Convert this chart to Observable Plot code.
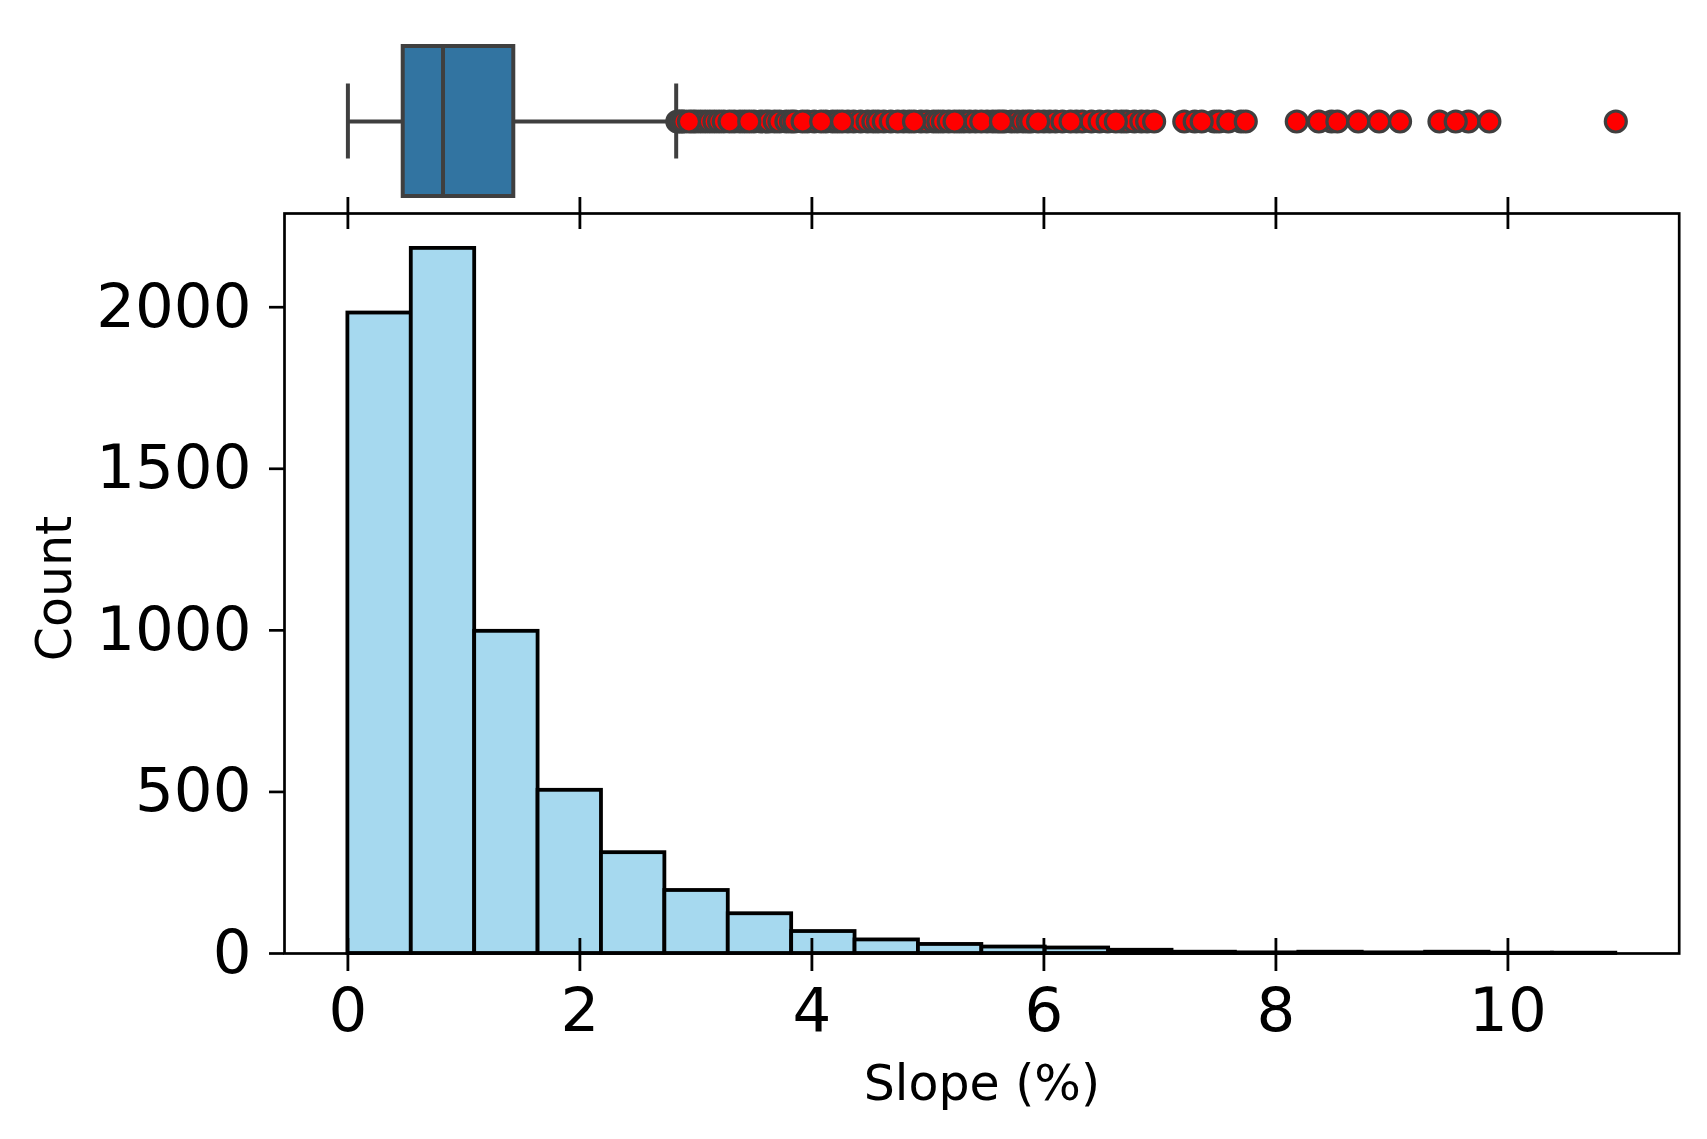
<!DOCTYPE html>
<html><head><meta charset="utf-8">
<script src="https://cdn.jsdelivr.net/npm/d3@7"></script>
<script src="https://cdn.jsdelivr.net/npm/@observablehq/plot@0.6"></script>
<style>
html,body{margin:0;padding:0;background:#fff;overflow:hidden;}
#wrap{position:relative;width:1707px;height:1139px;background:#fff;font-family:"DejaVu Sans",sans-serif;}
#wrap svg{position:absolute;left:0;top:0;}
</style></head><body><div id="wrap"></div>
<script>
// Histogram bins (Slope %, 20 bins) and counts
const binEdges = [0, 0.5465, 1.093, 1.6395, 2.186, 2.7325, 3.279, 3.8255, 4.372, 4.9185, 5.465,
  6.0115, 6.558, 7.1045, 7.651, 8.1975, 8.744, 9.2905, 9.837, 10.3835, 10.93];
const binCounts = [1982, 2182, 997, 505, 312, 195, 123, 68, 42, 28, 20, 17, 10, 4, 2, 4, 2, 4, 1, 1];
const yTicks = [0, 500, 1000, 1500, 2000];
const xTicks = [0, 2, 4, 6, 8, 10];

// Box plot summary
const boxCategory = ["Slope (%)"];
const whiskerLow = 0;
const boxQ1 = 0.477;
const boxMedian = 0.82;
const boxQ3 = 1.43;
const whiskerHigh = 2.83;
const outliersBack = [2.84, 2.86, 2.88, 2.9, 2.97, 3.0, 3.04, 3.08, 3.12, 3.16, 3.2, 3.24, 3.33, 3.38, 3.42,
  3.5, 3.56, 3.6, 3.63, 3.68, 3.72, 3.78, 3.82, 3.85, 3.96, 4.02, 4.12, 4.18, 4.22, 4.31, 4.36, 4.42,
  4.48, 4.53, 4.57, 4.62, 4.68, 4.79, 4.84, 4.94, 4.99, 5.05, 5.09, 5.13, 5.18, 5.27, 5.31, 5.36, 5.41,
  5.51, 5.56, 5.6, 5.66, 5.72, 5.77, 5.82, 5.86, 5.89, 6.0, 6.05, 6.1, 6.16, 6.28, 6.33, 6.41, 6.48,
  6.55, 6.67, 6.71, 6.78, 6.84, 6.89, 7.21, 7.3, 7.47, 7.51, 7.7, 8.48, 9.41, 9.66];
const outliersFront = [2.94, 3.29, 3.46, 3.92, 4.08, 4.26, 4.74, 4.88, 5.23, 5.46, 5.63, 5.95, 6.23, 6.62, 6.95,
  7.36, 7.59, 7.74, 8.18, 8.37, 8.53, 8.71, 8.89, 9.07, 9.55, 9.84, 10.93];

const W = 1707, H = 1139;
const mL = 284, mR = 28.3, frameTop = 213, frameBottom = 953;
const frameH = frameBottom - frameTop;
const xDomain = [-0.5465, 11.4765];
const font = "DejaVu Sans";
const edge = "#3f3f3f";

const bins = binCounts.map((c, i) => ({x1: binEdges[i], x2: binEdges[i + 1], count: c}));

const hist = Plot.plot({
  width: W, height: H,
  marginLeft: mL, marginRight: mR, marginTop: frameTop, marginBottom: H - frameBottom,
  style: {background: "transparent", fontFamily: font, overflow: "visible", color: "#000"},
  x: {domain: xDomain},
  y: {domain: [0, 2290]},
  marks: [
    Plot.rect(bins, {x1: "x1", x2: "x2", y1: () => 0, y2: "count", fill: "#a6d9ef", stroke: "#000", strokeWidth: 3.8}),
    Plot.frame({stroke: "#000", strokeWidth: 2.7}),
    Plot.axisY({ticks: yTicks, tickSize: 15, tickPadding: 18, fontSize: 61, strokeWidth: 2.7,
      tickFormat: d => String(d), label: null}),
    Plot.axisX({ticks: xTicks, tickSize: 18, tickPadding: 16, fontSize: 61, strokeWidth: 2.8,
      tickFormat: d => String(d), label: null}),
    Plot.ruleX(xTicks, {x: d => d, insetTop: frameH - 15, stroke: "#000", strokeWidth: 2.8}),
    Plot.ruleX(xTicks, {x: d => d, insetTop: -16, insetBottom: frameH - 16, stroke: "#000", strokeWidth: 2.8}),
    Plot.text(["Slope (%)"], {text: d => d, frameAnchor: "bottom", dy: 131, fontSize: 49, textAnchor: "middle", lineAnchor: "middle", fill: "#000"}),
    Plot.text(["Count"], {text: d => d, frameAnchor: "left", dx: -229.4, dy: 5, fontSize: 49, rotate: -90, textAnchor: "middle", lineAnchor: "middle", fill: "#000"})
  ]
});

const box = Plot.plot({
  width: W, height: frameTop,
  marginLeft: mL, marginRight: mR, marginTop: 0, marginBottom: 0,
  style: {background: "transparent", overflow: "visible"},
  x: {domain: xDomain, axis: null},
  y: {domain: boxCategory, range: [46, 196], padding: 0, axis: null},
  marks: [
    Plot.ruleY(boxCategory, {y: d => d, x1: () => whiskerLow, x2: () => boxQ1, stroke: edge, strokeWidth: 4}),
    Plot.ruleY(boxCategory, {y: d => d, x1: () => boxQ3, x2: () => whiskerHigh, stroke: edge, strokeWidth: 4}),
    Plot.tickX([whiskerLow, whiskerHigh], {x: d => d, y: () => boxCategory[0], insetTop: 37.5, insetBottom: 37.5, stroke: edge, strokeWidth: 4}),
    Plot.barX(boxCategory, {y: d => d, x1: () => boxQ1, x2: () => boxQ3, fill: "#3274a1", stroke: edge, strokeWidth: 4}),
    Plot.tickX([boxMedian], {x: d => d, y: () => boxCategory[0], stroke: edge, strokeWidth: 4}),
    Plot.dot(outliersBack, {x: d => d, y: () => boxCategory[0], r: 10.5, fill: "red", stroke: edge, strokeWidth: 3.2}),
    Plot.dot(outliersFront, {x: d => d, y: () => boxCategory[0], r: 10.5, fill: "red", stroke: edge, strokeWidth: 3.2})
  ]
});

const wrap = document.getElementById("wrap");
wrap.append(hist);
wrap.append(box);
</script>
</body></html>
